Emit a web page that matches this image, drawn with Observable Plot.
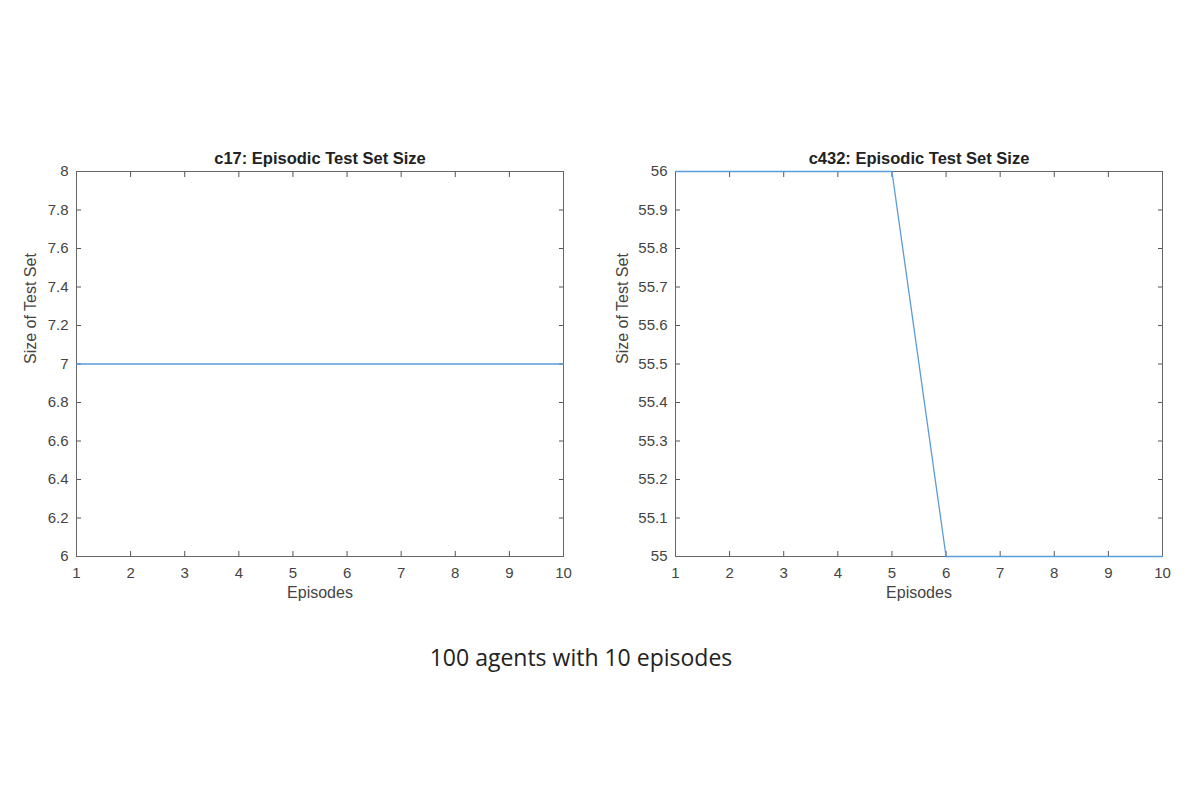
<!DOCTYPE html>
<html>
<head>
<meta charset="utf-8">
<script src="https://cdn.jsdelivr.net/npm/d3@7"></script>
<script src="https://cdn.jsdelivr.net/npm/@observablehq/plot@0.6"></script>
<style>
  html, body { margin: 0; padding: 0; background: #fff; }
  #root { position: relative; width: 1200px; height: 800px; overflow: hidden; background: #fff; }
  .panel { position: absolute; top: 130px; }
  #caption { position: absolute; left: 0; width: 1162px; top: 642px; line-height: 30px; text-align: center;
    font-family: "Open Sans", "Noto Sans", sans-serif; font-size: 23px; color: #222; }
</style>
</head>
<body>
<div id="root">
  <div id="left" class="panel" style="left:0px"></div>
  <div id="right" class="panel" style="left:600px"></div>
  <div id="caption"></div>
</div>
<script>
const episodes = [1, 2, 3, 4, 5, 6, 7, 8, 9, 10];
const c17Sizes = [7, 7, 7, 7, 7, 7, 7, 7, 7, 7];
const c432Sizes = [56, 56, 56, 56, 56, 55, 55, 55, 55, 55];
const xTicks = [1, 2, 3, 4, 5, 6, 7, 8, 9, 10];
const c17YTicks = [6, 6.2, 6.4, 6.6, 6.8, 7, 7.2, 7.4, 7.6, 7.8, 8];
const c432YTicks = [55, 55.1, 55.2, 55.3, 55.4, 55.5, 55.6, 55.7, 55.8, 55.9, 56];
const titles = ["c17: Episodic Test Set Size", "c432: Episodic Test Set Size"];
const xLabel = "Episodes";
const yLabel = "Size of Test Set";
const captionText = "100 agents with 10 episodes";

const axisColor = "#555";
const textColor = "#444";
const lineColor = "#5a9bd8";

function panel(values, yTicks, title, marginLeft, marginRight, yLabelOffset) {
  const data = episodes.map((e, i) => ({episode: e, size: values[i]}));
  return Plot.plot({
    width: 590,
    height: 500,
    marginLeft, marginRight,
    marginTop: 41,
    marginBottom: 74,
    style: {fontFamily: "'Liberation Sans', Arial, sans-serif", fontSize: "15px", color: textColor, background: "white"},
    x: {domain: [xTicks[0], xTicks[xTicks.length - 1]]},
    y: {domain: [yTicks[0], yTicks[yTicks.length - 1]]},
    marks: [
      Plot.axisX({anchor: "bottom", ticks: xTicks, tickSize: -5, tickPadding: 16, label: null, stroke: axisColor, fill: textColor}),
      Plot.axisX({anchor: "top", ticks: xTicks, tickSize: -5, tickFormat: () => "", label: null, stroke: axisColor}),
      Plot.axisY({anchor: "left", ticks: yTicks, tickSize: -5, tickPadding: 13, tickFormat: d => String(+d.toFixed(2)), label: null, stroke: axisColor, fill: textColor}),
      Plot.axisY({anchor: "right", ticks: yTicks, tickSize: -5, tickFormat: () => "", label: null, stroke: axisColor}),
      Plot.frame({stroke: "#666", strokeWidth: 1}),
      Plot.line(data, {x: "episode", y: "size", stroke: lineColor, strokeWidth: 1.3}),
      Plot.text([title], {text: d => d, frameAnchor: "top", lineAnchor: "middle", dy: -13, fontWeight: "bold", fontSize: 16.5, fill: "#222"}),
      Plot.text([xLabel], {text: d => d, frameAnchor: "bottom", lineAnchor: "middle", dy: 36, fontSize: 16, fill: textColor}),
      Plot.text([yLabel], {text: d => d, frameAnchor: "left", lineAnchor: "middle", dx: -yLabelOffset, rotate: -90, fontSize: 16, fill: textColor})
    ]
  });
}

document.getElementById("left").appendChild(panel(c17Sizes, c17YTicks, titles[0], 76, 27, 46));
document.getElementById("right").appendChild(panel(c432Sizes, c432YTicks, titles[1], 75, 28, 53));
document.getElementById("caption").textContent = captionText;
</script>
</body>
</html>
